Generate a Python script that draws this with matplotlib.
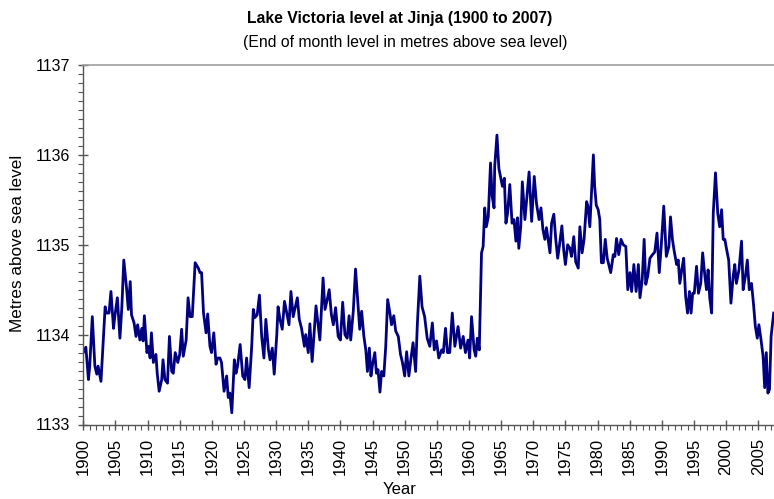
import matplotlib
matplotlib.use("Agg")
import matplotlib.pyplot as plt
from matplotlib.ticker import MultipleLocator

plt.rcParams['font.family'] = ['Liberation Sans', 'DejaVu Sans']

# End-of-month lake level readings (decimal year, metres above sea level)
years = [
    1900.0, 1900.4, 1900.8, 1901.0, 1901.4, 1901.8, 1902.1, 1902.3, 1902.75, 1903.0,
    1903.4, 1903.6, 1904.0, 1904.3, 1904.7, 1904.9, 1905.3, 1905.7, 1906.0, 1906.3,
    1906.75, 1907.0, 1907.3, 1907.5, 1907.9, 1908.2, 1908.45, 1908.8, 1909.1, 1909.3,
    1909.5, 1909.9, 1910.1, 1910.4, 1910.6, 1910.9, 1911.3, 1911.5, 1911.8, 1912.2,
    1912.4, 1912.7, 1913.1, 1913.4, 1913.75, 1914.0, 1914.3, 1914.7, 1915.0, 1915.3,
    1915.55, 1916.0, 1916.3, 1916.6, 1916.95, 1917.4, 1917.9, 1918.15, 1918.4, 1918.7,
    1919.1, 1919.35, 1919.7, 1919.95, 1920.3, 1920.65, 1920.9, 1921.25, 1921.5, 1921.9,
    1922.3, 1922.55, 1922.8, 1923.1, 1923.5, 1923.75, 1924.0, 1924.4, 1924.8, 1925.15,
    1925.4, 1925.8, 1926.2, 1926.45, 1926.7, 1927.05, 1927.4, 1927.75, 1928.1, 1928.4,
    1928.8, 1929.05, 1929.4, 1929.7, 1930.1, 1930.3, 1930.6, 1930.95, 1931.3, 1931.6,
    1932.0, 1932.3, 1932.65, 1932.9, 1933.3, 1933.6, 1933.95, 1934.4, 1934.6, 1935.0,
    1935.25, 1935.6, 1936.2, 1936.8, 1937.3, 1937.6, 1937.95, 1938.25, 1938.6, 1938.9,
    1939.25, 1939.65, 1940.0, 1940.35, 1940.7, 1941.05, 1941.35, 1941.6, 1942.0, 1942.35,
    1942.75, 1943.0, 1943.3, 1943.65, 1943.95, 1944.2, 1944.5, 1944.75, 1945.0, 1945.35,
    1945.6, 1945.85, 1946.15, 1946.4, 1946.75, 1947.05, 1947.35, 1947.7, 1947.95, 1948.3,
    1948.6, 1949.0, 1949.35, 1949.65, 1950.0, 1950.3, 1950.65, 1950.95, 1951.3, 1951.7,
    1951.95, 1952.35, 1952.7, 1953.1, 1953.5, 1953.9, 1954.3, 1954.6, 1954.95, 1955.3,
    1955.75, 1956.0, 1956.35, 1956.65, 1957.0, 1957.4, 1957.8, 1958.3, 1958.7, 1959.1,
    1959.45, 1959.85, 1960.1, 1960.4, 1960.8, 1961.05, 1961.3, 1961.6, 1961.95, 1962.2,
    1962.45, 1962.7, 1963.0, 1963.35, 1963.6, 1963.9, 1964.0, 1964.35, 1964.65, 1964.95,
    1965.2, 1965.5, 1965.75, 1966.0, 1966.35, 1966.7, 1967.0, 1967.3, 1967.55, 1967.75,
    1968.05, 1968.3, 1968.7, 1969.05, 1969.35, 1969.75, 1970.15, 1970.5, 1970.9, 1971.2,
    1971.5, 1971.8, 1972.05, 1972.3, 1972.6, 1972.85, 1973.2, 1973.5, 1973.8, 1974.05,
    1974.45, 1974.75, 1975.0, 1975.35, 1975.7, 1975.95, 1976.3, 1976.6, 1977.0, 1977.25,
    1977.6, 1977.9, 1978.3, 1978.5, 1978.8, 1979.0, 1979.35, 1979.55, 1979.8, 1980.1,
    1980.35, 1980.6, 1980.9, 1981.2, 1981.5, 1981.8, 1982.05, 1982.45, 1982.7, 1982.95,
    1983.3, 1983.65, 1984.0, 1984.4, 1984.7, 1985.05, 1985.3, 1985.65, 1986.0, 1986.35,
    1986.6, 1986.95, 1987.25, 1987.5, 1987.8, 1988.15, 1988.55, 1988.9, 1989.25, 1989.6,
    1989.9, 1990.3, 1990.7, 1991.1, 1991.35, 1991.65, 1991.9, 1992.3, 1992.55, 1992.8,
    1993.1, 1993.4, 1993.7, 1994.0, 1994.3, 1994.55, 1994.8, 1995.05, 1995.4, 1995.7,
    1996.05, 1996.35, 1996.7, 1996.95, 1997.2, 1997.45, 1997.75, 1998.0, 1998.35, 1998.7,
    1999.0, 1999.3, 1999.55, 1999.8, 2000.1, 2000.4, 2000.75, 2001.1, 2001.35, 2001.6,
    2002.0, 2002.4, 2002.65, 2003.0, 2003.3, 2003.6, 2003.95, 2004.25, 2004.55, 2004.85,
    2005.1, 2005.4, 2005.75, 2006.0, 2006.25, 2006.5, 2006.75, 2007.0, 2007.4,
]

levels = [
    1133.80, 1133.86, 1133.50, 1133.65, 1134.20, 1133.65, 1133.56, 1133.65, 1133.48, 1133.80,
    1134.31, 1134.24, 1134.24, 1134.48, 1134.07, 1134.20, 1134.41, 1133.96, 1134.31, 1134.83,
    1134.50, 1134.28, 1134.59, 1134.22, 1134.13, 1133.98, 1134.11, 1133.94, 1134.07, 1133.93,
    1134.21, 1133.80, 1133.87, 1133.74, 1134.02, 1133.69, 1133.78, 1133.57, 1133.37, 1133.50,
    1133.72, 1133.50, 1133.46, 1133.98, 1133.59, 1133.57, 1133.80, 1133.69, 1133.78, 1134.06,
    1133.76, 1133.94, 1134.41, 1134.20, 1134.20, 1134.80, 1134.74, 1134.69, 1134.69, 1134.24,
    1134.02, 1134.23, 1133.87, 1133.80, 1134.02, 1133.67, 1133.74, 1133.74, 1133.69, 1133.37,
    1133.54, 1133.30, 1133.35, 1133.13, 1133.72, 1133.57, 1133.65, 1133.89, 1133.54, 1133.50,
    1133.74, 1133.41, 1133.87, 1134.28, 1134.19, 1134.22, 1134.44, 1133.98, 1133.74, 1134.17,
    1133.83, 1133.72, 1133.85, 1133.56, 1134.00, 1134.31, 1134.17, 1134.06, 1134.37, 1134.26,
    1134.11, 1134.48, 1134.20, 1134.28, 1134.41, 1134.17, 1134.07, 1133.87, 1134.00, 1133.80,
    1134.12, 1133.70, 1134.32, 1133.94, 1134.63, 1134.28, 1134.39, 1134.50, 1134.22, 1134.11,
    1134.30, 1133.98, 1133.94, 1134.36, 1134.00, 1133.96, 1134.21, 1133.94, 1134.26, 1134.73,
    1134.31, 1134.06, 1134.26, 1133.98, 1133.83, 1133.59, 1133.85, 1133.54, 1133.67, 1133.80,
    1133.57, 1133.61, 1133.36, 1133.59, 1133.54, 1133.87, 1134.39, 1134.24, 1134.11, 1134.21,
    1134.04, 1133.98, 1133.78, 1133.69, 1133.54, 1133.81, 1133.54, 1133.72, 1133.91, 1133.59,
    1134.09, 1134.65, 1134.31, 1134.20, 1133.96, 1133.87, 1134.13, 1133.83, 1133.93, 1133.74,
    1133.83, 1133.80, 1134.07, 1133.80, 1133.80, 1134.24, 1133.87, 1134.09, 1133.85, 1133.98,
    1133.80, 1133.94, 1133.74, 1134.20, 1133.83, 1133.76, 1133.96, 1133.83, 1134.91, 1134.98,
    1135.41, 1135.20, 1135.31, 1135.91, 1135.54, 1135.41, 1135.87, 1136.22, 1135.85, 1135.74,
    1135.65, 1135.74, 1135.24, 1135.35, 1135.67, 1135.24, 1135.28, 1135.04, 1135.30, 1134.96,
    1135.20, 1135.70, 1135.28, 1135.57, 1135.81, 1135.26, 1135.76, 1135.46, 1135.28, 1135.41,
    1135.17, 1135.06, 1135.19, 1135.06, 1134.91, 1135.24, 1135.34, 1135.06, 1134.85, 1134.98,
    1135.21, 1134.93, 1134.78, 1135.00, 1134.96, 1134.87, 1135.09, 1134.81, 1134.74, 1135.20,
    1134.91, 1135.06, 1135.48, 1135.43, 1135.20, 1135.50, 1136.00, 1135.65, 1135.44, 1135.39,
    1135.28, 1134.80, 1134.80, 1135.06, 1134.85, 1134.76, 1134.69, 1134.89, 1134.87, 1135.07,
    1134.89, 1135.06, 1135.00, 1134.98, 1134.50, 1134.69, 1134.48, 1134.78, 1134.48, 1134.78,
    1134.41, 1134.61, 1135.06, 1134.56, 1134.65, 1134.85, 1134.89, 1134.92, 1135.13, 1134.69,
    1134.98, 1135.43, 1134.87, 1134.98, 1135.31, 1135.06, 1134.94, 1134.78, 1134.83, 1134.57,
    1134.72, 1134.85, 1134.43, 1134.24, 1134.48, 1134.24, 1134.46, 1134.46, 1134.76, 1134.46,
    1134.57, 1134.91, 1134.65, 1134.50, 1134.72, 1134.41, 1134.24, 1135.35, 1135.80, 1135.35,
    1135.20, 1135.39, 1135.06, 1135.06, 1134.94, 1134.83, 1134.35, 1134.65, 1134.78, 1134.57,
    1134.72, 1135.04, 1134.50, 1134.65, 1134.83, 1134.50, 1134.57, 1134.35, 1134.09, 1133.96,
    1134.11, 1133.96, 1133.76, 1133.41, 1133.80, 1133.35, 1133.39, 1133.98, 1134.24,
]

year_ticks = list(range(1900, 2006, 5))
level_ticks = [1133, 1134, 1135, 1136, 1137]

W, H = 774, 499
fig = plt.figure(figsize=(W / 100, H / 100), dpi=100)
ax = fig.add_axes([83.3 / W, 1 - 424.5 / H, 1 - 83.3 / W, (424.5 - 65) / H])

ax.plot(years, levels, color='#000080', lw=2.0, solid_joinstyle='round')

ax.set_xlim(1900, 2007.45)
ax.set_ylim(1133, 1137)
ax.set_xticks(year_ticks)
ax.set_xticklabels([str(y) for y in year_ticks], rotation=90, fontsize=12)
ax.set_yticks(level_ticks)
ax.set_yticklabels([str(v) for v in level_ticks], fontsize=11.5)
ax.xaxis.set_minor_locator(MultipleLocator(1))
ax.yaxis.set_minor_locator(MultipleLocator(0.1))

ax.tick_params(which='major', direction='inout', length=7, width=1, color='#555555')
ax.tick_params(which='minor', direction='out', length=3.5, width=0.8, color='#555555')
ax.tick_params(axis='x', which='major', pad=6)
ax.tick_params(axis='y', which='major', pad=6)

for side in ('left', 'bottom'):
    ax.spines[side].set_color('#555555')
    ax.spines[side].set_linewidth(1.0)
ax.spines['top'].set_color('#a0a0a0')
ax.spines['top'].set_linewidth(1.2)
ax.spines['right'].set_visible(False)

fig.text(400 / W, 1 - 18 / H, 'Lake Victoria level at Jinja (1900 to 2007)',
         ha='center', va='center', fontsize=11.3, fontweight='bold')
fig.text(405 / W, 1 - 42 / H, '(End of month level in metres above sea level)',
         ha='center', va='center', fontsize=11.3)
fig.text(18 / W, 1 - 243 / H, 'Metres above sea level', rotation=90,
         ha='center', va='center', fontsize=12.3)
fig.text(400 / W, 1 - 490 / H, 'Year', ha='center', va='center', fontsize=12)

fig.savefig('out.png', dpi=100)
